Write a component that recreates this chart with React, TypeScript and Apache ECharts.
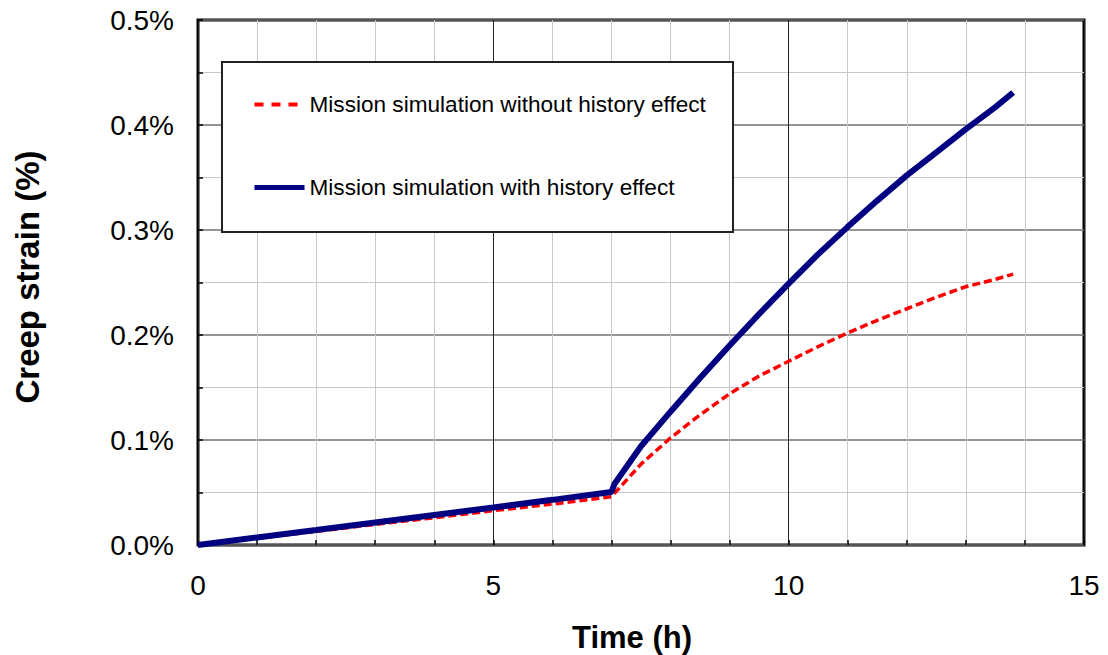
import React, { useEffect, useRef } from "react";
import * as echarts from "echarts";

const seriesNames = [
  "Mission simulation without history effect",
  "Mission simulation with history effect",
];

// Time (h) and creep strain (%) — without history effect (red dashed)
const timeWithout = [0, 1, 2, 3, 4, 5, 6, 7, 7.5, 8, 8.5, 9, 9.5, 10, 10.5, 11, 11.5, 12, 12.5, 13, 13.5, 13.8];
const strainWithout = [0, 0.0066, 0.013, 0.0196, 0.026, 0.0327, 0.039, 0.046, 0.077, 0.102, 0.124, 0.144, 0.161, 0.175, 0.189, 0.202, 0.214, 0.225, 0.236, 0.246, 0.253, 0.258];

// Time (h) and creep strain (%) — with history effect (blue solid)
const timeWith = [0, 1, 2, 3, 4, 5, 6, 7, 7.05, 7.5, 8, 8.5, 9, 9.5, 10, 10.5, 11, 11.5, 12, 12.5, 13, 13.5, 13.8];
const strainWith = [0, 0.0072, 0.0143, 0.0215, 0.0286, 0.0357, 0.043, 0.0505, 0.058, 0.094, 0.127, 0.159, 0.19, 0.22, 0.249, 0.277, 0.303, 0.328, 0.352, 0.374, 0.396, 0.417, 0.431];

const xAxisTitle = "Time (h)";
const yAxisTitle = "Creep strain (%)";

const FONT = '"Liberation Sans", Arial, sans-serif';

export default function App() {
  const ref = useRef<HTMLDivElement>(null);

  useEffect(() => {
    if (!ref.current) return;
    const chart = echarts.init(ref.current, null, { renderer: "svg" });
    const pairs = (xs: number[], ys: number[]) => xs.map((x, i) => [x, ys[i]]);

    chart.setOption({
      animation: false,
      backgroundColor: "#fff",
      textStyle: { fontFamily: FONT },
      grid: {
        left: 198,
        top: 20,
        width: 886,
        height: 525,
        show: true,
        borderColor: "#000",
        borderWidth: 3,
        backgroundColor: "transparent",
      },
      xAxis: {
        type: "value",
        min: 0,
        max: 15,
        interval: 5,
        axisLine: { show: false },
        axisTick: { show: true, inside: true, length: 5, lineStyle: { color: "#000", width: 1.5 } },
        minorTick: { show: true, splitNumber: 5, length: 5, lineStyle: { color: "#000", width: 1.5 } },
        splitLine: { show: true, lineStyle: { color: "#222", width: 1 } },
        minorSplitLine: { show: true, lineStyle: { color: "#c8c8c8", width: 1 } },
        axisLabel: { fontSize: 28, color: "#000", margin: 26, fontFamily: FONT },
      },
      yAxis: {
        type: "value",
        min: 0,
        max: 0.5,
        interval: 0.1,
        axisLine: { show: false },
        axisTick: { show: true, inside: true, length: 5, lineStyle: { color: "#000", width: 1.5 } },
        minorTick: { show: true, splitNumber: 2, length: 5, lineStyle: { color: "#000", width: 1.5 } },
        splitLine: { show: true, lineStyle: { color: "#707070", width: 1.5 } },
        minorSplitLine: { show: true, lineStyle: { color: "#c8c8c8", width: 1 } },
        axisLabel: {
          fontSize: 28,
          color: "#000",
          margin: 24,
          fontFamily: FONT,
          formatter: (v: number) => v.toFixed(1) + "%",
        },
      },
      legend: {
        show: true,
        orient: "vertical",
        left: 252,
        top: 93,
        itemWidth: 50,
        itemHeight: 22,
        itemGap: 60,
        padding: 0,
        z: 6,
        itemStyle: { opacity: 0 },
        data: [
          { name: seriesNames[0], lineStyle: { color: "#ff0000", width: 4, type: [9, 8] } },
          { name: seriesNames[1], lineStyle: { color: "#000080", width: 5 } },
        ],
        textStyle: { fontSize: 22.6, color: "#000", fontFamily: FONT },
      },
      graphic: [
        {
          type: "rect",
          z: 5,
          shape: { x: 222, y: 62, width: 511, height: 170 },
          style: { fill: "#fff", stroke: "#222", lineWidth: 2 },
        },
        {
          type: "text",
          x: 632,
          y: 637,
          style: {
            text: xAxisTitle,
            fontSize: 31,
            fontWeight: "bold",
            fontFamily: FONT,
            fill: "#000",
            align: "center",
            verticalAlign: "middle",
          },
        },
        {
          type: "text",
          x: 27,
          y: 277,
          rotation: Math.PI / 2,
          style: {
            text: yAxisTitle,
            fontSize: 33,
            fontWeight: "bold",
            fontFamily: FONT,
            fill: "#000",
            align: "center",
            verticalAlign: "middle",
          },
        },
      ],
      series: [
        {
          name: seriesNames[0],
          type: "line",
          data: pairs(timeWithout, strainWithout),
          showSymbol: false,
          symbol: "none",
          z: 3,
          lineStyle: { color: "#ff0000", width: 3.5, type: [8, 4] },
          itemStyle: { color: "#ff0000" },
        },
        {
          name: seriesNames[1],
          type: "line",
          data: pairs(timeWith, strainWith),
          showSymbol: false,
          symbol: "none",
          z: 4,
          lineStyle: { color: "#000080", width: 6 },
          itemStyle: { color: "#000080" },
        },
      ],
    });

    return () => chart.dispose();
  }, []);

  return (
    <div
      ref={ref}
      style={{ position: "fixed", left: 0, top: 0, width: 1108, height: 655 }}
    />
  );
}
